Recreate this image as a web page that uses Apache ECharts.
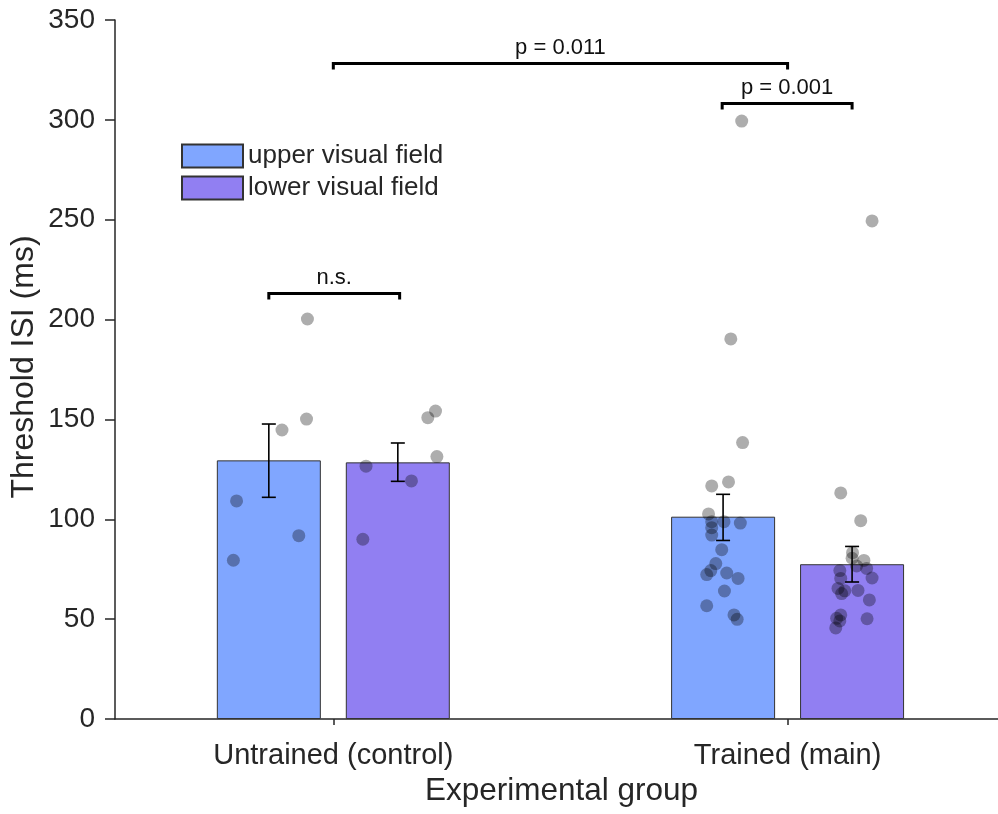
<!DOCTYPE html>
<html>
<head>
<meta charset="utf-8">
<script src="https://cdn.jsdelivr.net/npm/echarts@6/dist/echarts.min.js"></script>
<style>
  html, body { margin: 0; padding: 0; background: #fff; }
  #main { width: 998px; height: 814px; }
</style>
</head>
<body>
<div id="main"></div>
<script>
// ---- data ----
const categories = ['Untrained (control)', 'Trained (main)'];
const catPos = [1, 2];
const seriesNames = ['upper visual field', 'lower visual field'];

const upperMean = [129.5, 101.3];
const lowerMean = [128.5, 77.5];
const upperErrLo = [111.0, 89.4];
const upperErrHi = [147.7, 112.5];
const lowerErrLo = [119.0, 68.6];
const lowerErrHi = [138.2, 86.4];

// single subjects (x = group position + jitter)
const upperPtX = [0.943, 0.887, 0.941, 0.787, 0.924, 0.780,
  1.899, 1.875, 1.901, 1.833, 1.870, 1.826, 1.833, 1.860, 1.896, 1.833, 1.833,
  1.855, 1.842, 1.831, 1.822, 1.866, 1.891, 1.861, 1.822, 1.882, 1.889];
const upperPtY = [200.3, 144.7, 150.2, 109.2, 91.8, 79.5,
  299.4, 190.3, 138.4, 116.7, 118.7, 102.7, 98.8, 98.8, 98.1, 95.8, 92.1,
  84.8, 77.8, 74.3, 72.3, 73.1, 70.4, 64.1, 56.7, 52.1, 49.9];
const lowerPtX = [1.225, 1.208, 1.228, 1.072, 1.172, 1.065,
  2.186, 2.117, 2.161, 2.143, 2.142, 2.168, 2.152, 2.174, 2.115, 2.186, 2.117,
  2.111, 2.155, 2.126, 2.119, 2.180, 2.117, 2.108, 2.175, 2.115, 2.106];
const lowerPtY = [154.2, 150.9, 131.4, 126.6, 119.2, 90.0,
  249.4, 113.2, 99.3, 83.3, 80.5, 79.4, 76.6, 75.4, 74.3, 70.6, 70.4,
  65.4, 64.4, 64.2, 62.8, 59.6, 52.1, 50.4, 50.2, 49.1, 45.6];

// significance brackets
const bracketFrom = [0.858, 1, 1.856];
const bracketTo = [1.146, 2, 2.142];
const bracketY = [213, 328.2, 308.2];
const bracketText = ['n.s.', 'p = 0.011', 'p = 0.001'];

// ---- styling ----
const FONT = 'Liberation Sans, Arial, Helvetica, sans-serif';
const TXT = '#262626';
const BAR_W = 104;
const BAR_SHIFT = 64.5;   // px from group centre to each bar centre

let myChart = echarts.init(document.getElementById('main'));

function errorSeries(lo, hi, sign) {
  return {
    type: 'custom',
    z: 5,
    encode: { x: 0, y: [1, 2] },
    data: catPos.map((c, i) => [c, lo[i], hi[i]]),
    renderItem: function (params, api) {
      const a = api.coord([api.value(0), api.value(1)]);
      const b = api.coord([api.value(0), api.value(2)]);
      const x = a[0] + sign * BAR_SHIFT;
      const cap = 7;
      const st = { stroke: '#000', lineWidth: 1.6 };
      return {
        type: 'group',
        children: [
          { type: 'line', shape: { x1: x, y1: a[1], x2: x, y2: b[1] }, style: st },
          { type: 'line', shape: { x1: x - cap, y1: a[1], x2: x + cap, y2: a[1] }, style: st },
          { type: 'line', shape: { x1: x - cap, y1: b[1], x2: x + cap, y2: b[1] }, style: st }
        ]
      };
    }
  };
}

let option = {
  backgroundColor: '#fff',
  animation: false,
  textStyle: { fontFamily: FONT, color: TXT },
  grid: { left: 115, right: 0, top: 20, bottom: 95 },
  legend: {
    data: seriesNames,
    orient: 'vertical',
    left: 181,
    top: 143,
    padding: 0,
    icon: 'rect',
    itemWidth: 61,
    itemHeight: 23,
    itemGap: 6,
    textStyle: { fontSize: 26, color: TXT, fontFamily: FONT }
  },
  xAxis: {
    type: 'value',
    min: 0.5194,
    max: 2.4632,
    name: 'Experimental group',
    nameLocation: 'middle',
    nameGap: 48,
    nameTextStyle: { fontSize: 31.5, color: TXT, fontFamily: FONT, padding: [0, 0, 0, 10] },
    splitLine: { show: false },
    axisLine: { lineStyle: { color: TXT, width: 1.5 } },
    axisTick: { show: true, customValues: catPos, length: 6, lineStyle: { color: TXT, width: 1.5 } },
    axisLabel: {
      customValues: catPos,
      fontSize: 29,
      color: TXT,
      margin: 22,
      formatter: function (v) {
        const i = catPos.indexOf(Math.round(v));
        return i >= 0 ? categories[i] : '';
      }
    }
  },
  yAxis: {
    type: 'value',
    min: 0,
    max: 350,
    interval: 50,
    splitLine: { show: false },
    axisLine: { show: true, lineStyle: { color: TXT, width: 1.5 } },
    axisTick: { show: true, length: 10, lineStyle: { color: TXT, width: 1.5 } },
    axisLabel: { fontSize: 28, color: TXT, margin: 20 }
  },
  graphic: [{
    type: 'text',
    x: 24,
    y: 367,
    rotation: Math.PI / 2,
    style: {
      text: 'Threshold ISI (ms)',
      fontSize: 32,
      fontFamily: FONT,
      fill: TXT,
      align: 'center',
      verticalAlign: 'middle'
    }
  }],
  series: [
    {
      name: seriesNames[0],
      type: 'bar',
      barWidth: BAR_W,
      barGap: '24%',
      itemStyle: { color: '#80a6ff', borderColor: '#333', borderWidth: 1 },
      data: catPos.map((c, i) => [c, upperMean[i]])
    },
    {
      name: seriesNames[1],
      type: 'bar',
      barWidth: BAR_W,
      barGap: '24%',
      itemStyle: { color: '#917ff2', borderColor: '#333', borderWidth: 1 },
      data: catPos.map((c, i) => [c, lowerMean[i]])
    },
    {
      type: 'scatter',
      symbolSize: 13,
      z: 4,
      itemStyle: { color: 'rgba(0,0,0,0.4)' },
      data: upperPtX.map((x, i) => [x, upperPtY[i]])
    },
    {
      type: 'scatter',
      symbolSize: 13,
      z: 4,
      itemStyle: { color: 'rgba(0,0,0,0.4)' },
      data: lowerPtX.map((x, i) => [x, lowerPtY[i]])
    },
    errorSeries(upperErrLo, upperErrHi, -1),
    errorSeries(lowerErrLo, lowerErrHi, 1),
    {
      type: 'custom',
      z: 6,
      clip: false,
      encode: { x: [0, 1], y: 2 },
      data: bracketFrom.map((x, i) => [x, bracketTo[i], bracketY[i]]),
      renderItem: function (params, api) {
        const a = api.coord([api.value(0), api.value(2)]);
        const b = api.coord([api.value(1), api.value(2)]);
        return {
          type: 'group',
          children: [
            {
              type: 'polyline',
              shape: { points: [[a[0], a[1] + 6], [a[0], a[1]], [b[0], b[1]], [b[0], b[1] + 6]] },
              style: { stroke: '#000', lineWidth: 3, fill: null, lineJoin: 'miter' }
            },
            {
              type: 'text',
              x: (a[0] + b[0]) / 2,
              y: a[1] - 16,
              style: {
                text: bracketText[params.dataIndex],
                fontSize: 22,
                fontFamily: FONT,
                fill: '#111',
                align: 'center',
                verticalAlign: 'middle'
              }
            }
          ]
        };
      }
    }
  ]
};

myChart.setOption(option);
</script>
</body>
</html>
